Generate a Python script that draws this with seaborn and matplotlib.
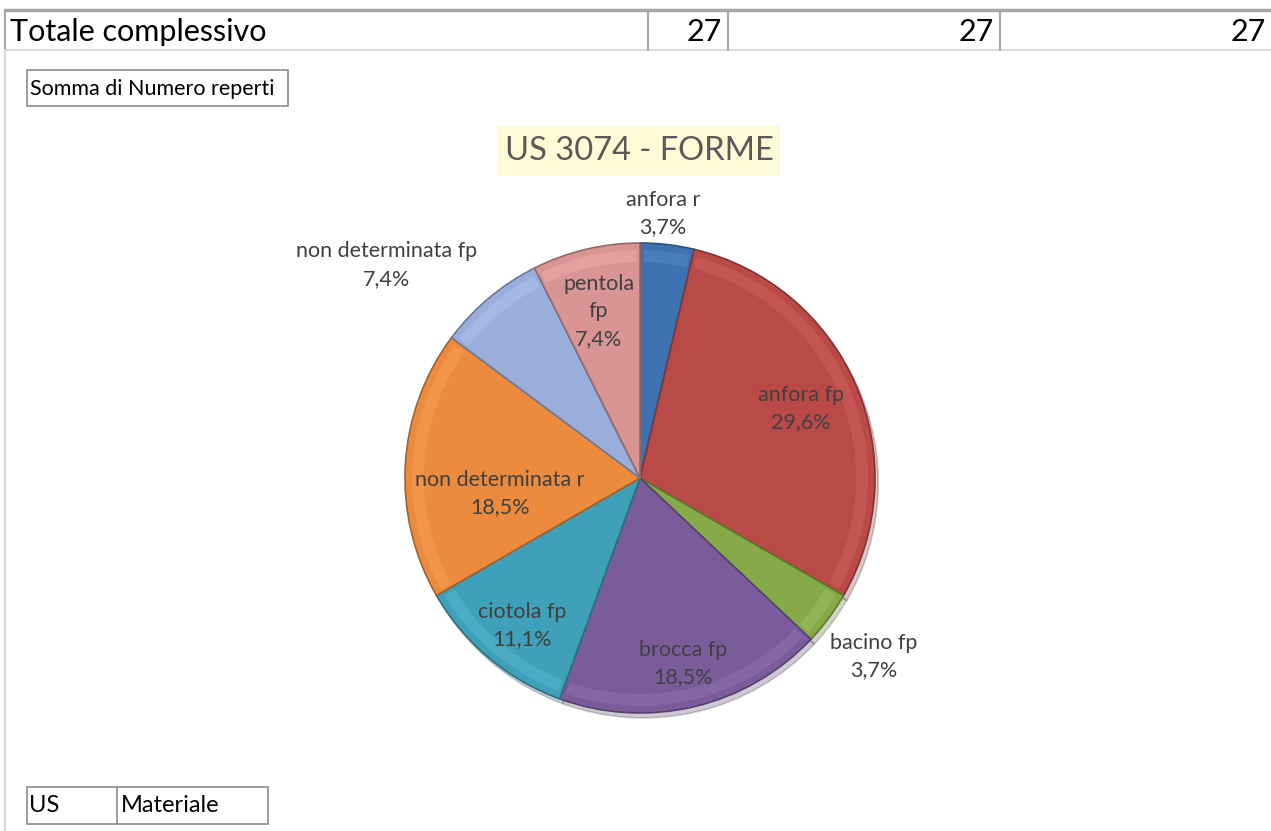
import numpy as np
import matplotlib
matplotlib.use("Agg")
import matplotlib.pyplot as plt
import matplotlib.colors as mcolors
import seaborn as sns

# dati del grafico
forme = ["anfora r", "anfora fp", "bacino fp", "brocca fp",
         "ciotola fp", "non determinata r", "non determinata fp", "pentola fp"]
reperti = [1, 8, 1, 5, 3, 5, 2, 2]
totali = [27, 27, 27]
titolo = "US 3074 - FORME"

colori = ["#3f72b0", "#b94a48", "#87aa48", "#7a5c9b",
          "#3fa0ba", "#ec8b3e", "#9aaedc", "#d99494"]

# posizione etichette: (raggio, scarto angolare in gradi)
pos_etichette = [(1.13, 1.7), (0.745, 0), (1.25, -0.7), (0.81, -0.3),
                 (0.805, 1.4), (0.6, 9.8), (1.41, 10), (0.73, 0.6)]
etichette_testo = ["anfora r", "anfora fp", "bacino fp", "brocca fp",
                   "ciotola fp", "non determinata r", "non determinata fp", "pentola\nfp"]

sns.set_theme(style="white")
plt.rcParams["font.family"] = ["Lato", "DejaVu Sans"]

W, H = 1271, 831
fig = plt.figure(figsize=(W / 100, H / 100), dpi=100)
fig.patch.set_facecolor("white")

# sfondo "foglio di calcolo" in coordinate pixel
bg = fig.add_axes([0, 0, 1, 1])
bg.set_xlim(0, W)
bg.set_ylim(H, 0)
bg.axis("off")

bg.plot([5, W], [10, 10], color="#a6a6a6", lw=2.5)
bg.plot([5, W], [50, 50], color="#d9d9d9", lw=1.5)
bg.plot([5, 5], [10, 50], color="#a6a6a6", lw=1.5)
bg.plot([5, 5], [50, H], color="#d9d9d9", lw=1.5)
for x in [648, 728, 1000]:
    bg.plot([x, x], [10, 50], color="#a6a6a6", lw=1.5)
bg.text(10, 32, "Totale complessivo", fontsize=22, va="center", ha="left", color="black")
for x, v in zip([722, 994, 1266], totali):
    bg.text(x, 32, str(v), fontsize=22, va="center", ha="right", color="black")

bg.add_patch(plt.Rectangle((27, 70), 261, 36, fill=False, edgecolor="#8c8c8c", lw=1.2))
bg.text(30, 89, "Somma di Numero reperti", fontsize=15.5, va="center", ha="left", color="black")

bg.add_patch(plt.Rectangle((27, 787), 241, 37, fill=False, edgecolor="#8c8c8c", lw=1.2))
bg.plot([117, 117], [787, 824], color="#8c8c8c", lw=1.2)
bg.text(29, 806, "US", fontsize=17, va="center", ha="left", color="black")
bg.text(121, 806, "Materiale", fontsize=17, va="center", ha="left", color="black")

# titolo con sfondo giallino
bg.add_patch(plt.Rectangle((498, 126), 282, 50, facecolor="#fdfbd6", edgecolor="none"))
bg.text(639, 151, titolo, fontsize=23.5, va="center", ha="center", color="#595959")

# grafico a torta
ax = fig.add_axes([405 / W, (H - 713) / H, 470 / W, 470 / H])
wedges, _ = ax.pie(reperti, colors=colori, startangle=90, counterclock=False,
                   radius=1, wedgeprops=dict(linewidth=1.2, edgecolor="#3a3a3a"),
                   shadow=dict(ox=0.01, oy=-0.015, shade=0.5, alpha=0.25))

# effetto rilievo: bordo interno chiaro
for w, c in zip(wedges, colori):
    chiaro = [min(1, v + 0.15) for v in mcolors.to_rgb(c)]
    scuro = [v * 0.7 for v in mcolors.to_rgb(c)]
    w.set_edgecolor(scuro)
    ax.add_patch(matplotlib.patches.Wedge((0, 0), 0.97, w.theta1 + 1.0, w.theta2 - 1.0,
                                          width=0.05, facecolor=chiaro, edgecolor="none",
                                          alpha=0.3))

totale = sum(reperti)
for w, v, testo, (r, dt) in zip(wedges, reperti, etichette_testo, pos_etichette):
    ang = np.deg2rad((w.theta1 + w.theta2) / 2 + dt)
    perc = f"{v / totale * 100:.1f}".replace(".", ",") + "%"
    ax.text(r * np.cos(ang), r * np.sin(ang), f"{testo}\n{perc}", ha="center", va="center",
            fontsize=15.5, color="#404040", linespacing=1.45)

ax.set_xlim(-1, 1)
ax.set_ylim(-1, 1)
ax.set_aspect("equal")
ax.axis("off")

fig.savefig("out.png", dpi=100)
